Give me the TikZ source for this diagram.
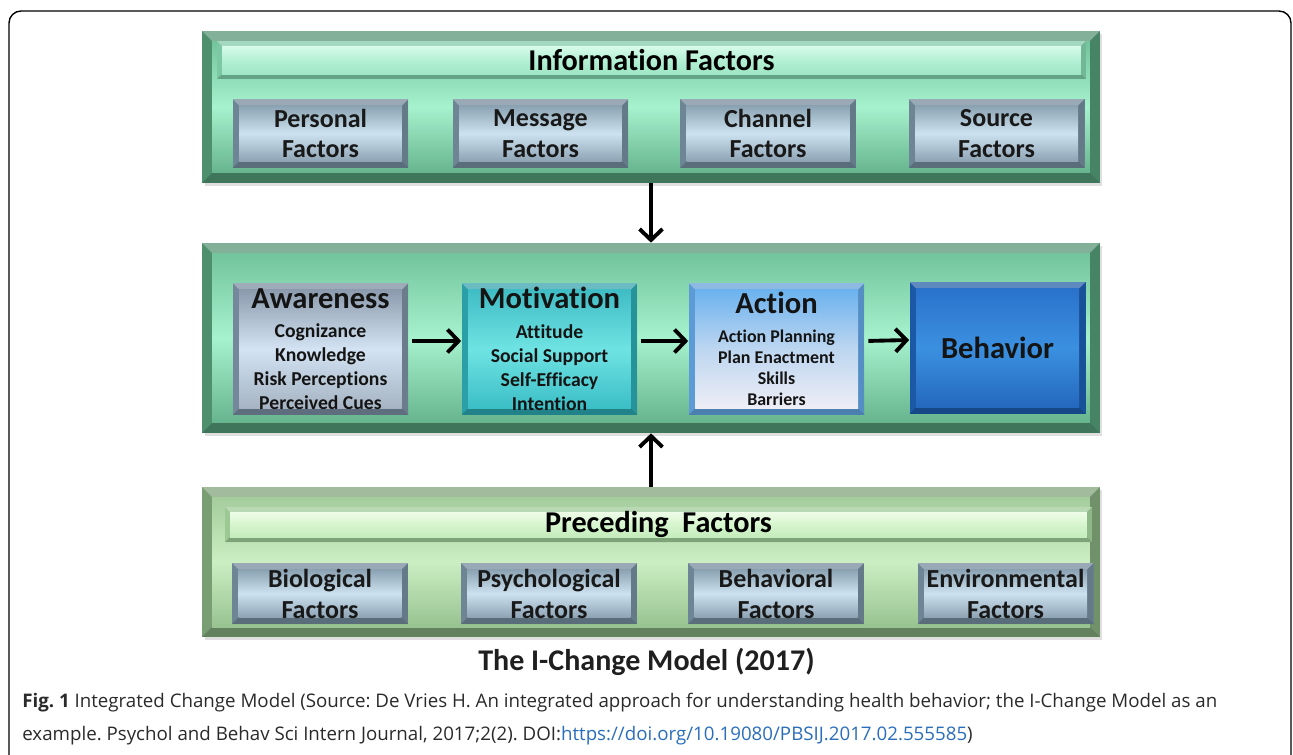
\documentclass[tikz,border=0pt]{standalone}
\usepackage{fontspec}
\setmainfont{Carlito}[Ligatures=NoCommon]
\newfontfamily\capfont{Open Sans}
\usetikzlibrary{arrows.meta,shadows}
\frenchspacing

% colours
\definecolor{panelEdge}{HTML}{4E8F6E}
\definecolor{panelTop}{HTML}{72C49C}
\definecolor{panelMid}{HTML}{A6F2CE}
\definecolor{panelBot}{HTML}{66B48E}
\definecolor{lowEdge}{HTML}{7A9E74}
\definecolor{lowTop}{HTML}{A4CC9C}
\definecolor{lowMid}{HTML}{CBEEC2}
\definecolor{lowBot}{HTML}{98C290}
\definecolor{headEdge}{HTML}{7CC8A4}
\definecolor{headTop}{HTML}{D8FBEA}
\definecolor{headMid}{HTML}{B4F0D4}
\definecolor{headBot}{HTML}{9EE6C4}
\definecolor{headLowEdge}{HTML}{9CC894}
\definecolor{headLowTop}{HTML}{EEFCE8}
\definecolor{headLowMid}{HTML}{D6F5CE}
\definecolor{headLowBot}{HTML}{C4ECBC}
\definecolor{factEdge}{HTML}{6D8595}
\definecolor{factTop}{HTML}{8AA2B2}
\definecolor{factMid}{HTML}{CDE2F0}
\definecolor{factBot}{HTML}{8DA3B4}
\definecolor{awEdge}{HTML}{75879A}
\definecolor{awTop}{HTML}{8B9BAD}
\definecolor{awMid}{HTML}{D3E3F3}
\definecolor{awBot}{HTML}{A5B3C2}
\definecolor{moEdge}{HTML}{2A9FA8}
\definecolor{moTop}{HTML}{3FBCC4}
\definecolor{moMid}{HTML}{6FE3E3}
\definecolor{moBot}{HTML}{3BBEC6}
\definecolor{acEdge}{HTML}{5C9BD6}
\definecolor{acTop}{HTML}{6BB2EE}
\definecolor{acMid}{HTML}{BDD6F0}
\definecolor{acBot}{HTML}{EEEEF6}
\definecolor{beEdge}{HTML}{1B58A5}
\definecolor{beTop}{HTML}{2A72CC}
\definecolor{beMid}{HTML}{3B90E0}
\definecolor{beBot}{HTML}{2468BE}
\definecolor{capgray}{HTML}{2A2A2A}
\definecolor{linkblue}{HTML}{2A6EBB}

\tikzset{bevel width/.initial=1.3mm}

\begin{document}
\begin{tikzpicture}[x=0.02cm, y=-0.02cm,
  bevel/.style n args={4}{rectangle, inner sep=0pt, align=center, fill=#1,
    path picture={
      \def\bw{\pgfkeysvalueof{/tikz/bevel width}}
      \coordinate (nw) at (path picture bounding box.north west);
      \coordinate (ne) at (path picture bounding box.north east);
      \coordinate (sw) at (path picture bounding box.south west);
      \coordinate (se) at (path picture bounding box.south east);
      % bevel faces
      \fill[white, opacity=.3] (nw) -- (ne) -- ([shift={(-\bw,-\bw)}]ne) -- ([shift={(\bw,-\bw)}]nw) -- cycle;
      \fill[black, opacity=.18] (sw) -- (se) -- ([shift={(-\bw,\bw)}]se) -- ([shift={(\bw,\bw)}]sw) -- cycle;
      \fill[black, opacity=.08] (ne) -- (se) -- ([shift={(-\bw,\bw)}]se) -- ([shift={(-\bw,-\bw)}]ne) -- cycle;
      % face
      \shade[top color=#2, bottom color=#4, middle color=#3]
        ([shift={(\bw,-\bw)}]nw) rectangle ([shift={(-\bw,\bw)}]se);
    }},
  panel/.style={bevel={panelEdge}{panelTop}{panelMid}{panelBot}, bevel width=2mm,
    minimum width=17.96cm, drop shadow={opacity=.25, shadow xshift=.5mm, shadow yshift=-.6mm}},
  panel low/.style={bevel={lowEdge}{lowTop}{lowMid}{lowBot}, bevel width=2mm,
    minimum width=17.96cm, drop shadow={opacity=.25, shadow xshift=.5mm, shadow yshift=-.6mm}},
  header/.style={bevel={headEdge}{headTop}{headMid}{headBot}, bevel width=1mm,
    font=\fontsize{17.2}{20}\selectfont\bfseries},
  header low/.style={bevel={headLowEdge}{headLowTop}{headLowMid}{headLowBot}, bevel width=1mm,
    font=\fontsize{17.2}{20}\selectfont\bfseries},
  factor/.style={bevel={factEdge}{factTop}{factMid}{factBot}, minimum width=3.52cm,
    font=\fontsize{14.8}{17.6}\selectfont\bfseries, text=black!90},
  stage/.style={minimum width=3.52cm, minimum height=2.64cm, text=black!92,
    font=\fontsize{11.2}{13.6}\selectfont\bfseries},
  arr/.style={line width=2.2pt, -{Straight Barb[length=2.2mm, width=4.6mm]}},
]
  \useasboundingbox (0,0) rectangle (1293,754);

  % Outer frame
  \draw[line width=0.8pt, rounded corners=0.24cm] (9,11) rectangle (1291,800);

  % Panels
  \node[panel, minimum height=3.04cm] (info) at (651,107) {};
  \node[panel, minimum height=3.8cm] (stages) at (651,338) {};
  \node[panel low, minimum height=3.0cm] (prec) at (651,562) {};

  % Headers
  \node[header, minimum width=17.38cm, minimum height=0.76cm] (infohead) at (651.5,60) {Information Factors};
  \node[header low, minimum width=17.34cm, minimum height=0.7cm] (prechead) at (658.5,524.5) {Preceding\ \ Factors};

  % Information factors
  \foreach \x/\n/\t in {320.5/pers/Personal, 540.5/mess/Message, 768/chan/Channel, 996.5/sour/Source}
    \node[factor, minimum height=1.38cm] (\n) at (\x,133.5) {\t\\Factors};

  % Preceding factors
  \foreach \x/\n/\t in {320/bio/Biological, 549/psy/Psychological, 776/behf/Behavioral, 1005.5/env/Environmental}
    \node[factor, minimum height=1.22cm] (\n) at (\x,593.5) {\t\\Factors};

  % Stages
  \node[stage, bevel={awEdge}{awTop}{awMid}{awBot}] (aware) at (320.5,349)
    {{\fontsize{17.4}{17}\selectfont Awareness}\\[3.4pt] Cognizance\\Knowledge\\Risk Perceptions\\Perceived Cues};
  \node[stage, bevel={moEdge}{moTop}{moMid}{moBot}] (motiv) at (549.5,349)
    {{\fontsize{17.4}{17}\selectfont Motivation}\\[3.4pt] Attitude\\Social Support\\Self-Efficacy\\Intention};
  \node[stage, bevel={acEdge}{acTop}{acMid}{acBot},
    font=\fontsize{10.2}{11.9}\selectfont\bfseries] (action) at (776.5,349)
    {{\fontsize{17.4}{17}\selectfont Action}\\[4.5pt] Action Planning\\Plan Enactment\\Skills\\Barriers};
  \node[stage, bevel={beEdge}{beTop}{beMid}{beBot},
    font=\fontsize{17.4}{20}\selectfont\bfseries] (behav) at (997.5,348) {Behavior};

  % Arrows
  \draw[arr] (info.south) -- (stages.north);
  \draw[arr] (prec.north) -- (stages.south);
  \draw[arr, shorten <=2pt] ([yshift=1.6mm]aware.east) -- ([yshift=1.6mm]motiv.west);
  \draw[arr, shorten <=2pt] ([yshift=1.6mm]motiv.east) -- ([yshift=1.6mm]action.west);
  \draw[arr, shorten <=2pt] ([yshift=1.6mm]action.east) -- ([yshift=1.6mm]behav.west);

  % Title and caption
  \node[font=\fontsize{17.1}{20}\selectfont\bfseries, text=black!88] (title) at (646.5,662) {The I-Change Model (2017)};
  \node[anchor=west, align=left, inner sep=0pt, text=capgray,
    font=\capfont\fontsize{10.65}{18.7}\selectfont] (caption) at (22,719)
    {\textbf{Fig. 1} Integrated Change Model (Source: De Vries H. An integrated approach for understanding health behavior; the I-Change Model as an\\
     example. Psychol and Behav Sci Intern Journal, 2017;2(2). DOI:\textcolor{linkblue}{https://doi.org/10.19080/PBSIJ.2017.02.555585})};
\end{tikzpicture}
\end{document}
